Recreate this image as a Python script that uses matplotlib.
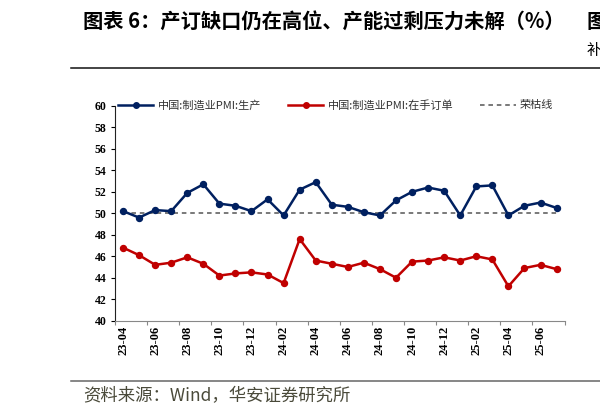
import matplotlib
matplotlib.use("Agg")
import matplotlib.pyplot as plt
from matplotlib.lines import Line2D

plt.rcParams['font.family'] = ['Noto Sans CJK SC', 'DejaVu Sans']

months = ['23-04', '23-05', '23-06', '23-07', '23-08', '23-09', '23-10', '23-11', '23-12',
          '24-01', '24-02', '24-03', '24-04', '24-05', '24-06', '24-07', '24-08', '24-09',
          '24-10', '24-11', '24-12', '25-01', '25-02', '25-03', '25-04', '25-05', '25-06', '25-07']
production = [50.2, 49.6, 50.3, 50.2, 51.9, 52.7, 50.9, 50.7, 50.2, 51.3, 49.8, 52.2, 52.9, 50.8,
              50.6, 50.1, 49.8, 51.2, 52.0, 52.4, 52.1, 49.8, 52.5, 52.6, 49.8, 50.7, 51.0, 50.5]
backlog = [46.8, 46.1, 45.2, 45.4, 45.9, 45.3, 44.2, 44.4, 44.5, 44.3, 43.5, 47.6, 45.6, 45.3,
           45.0, 45.4, 44.8, 44.0, 45.5, 45.6, 45.9, 45.6, 46.0, 45.7, 43.2, 44.9, 45.2, 44.8]
threshold = [50] * len(months)

BLUE = '#002060'
RED = '#C00000'

fig = plt.figure(figsize=(6, 4.17), dpi=100)
ax = fig.add_axes([0.1917, 0.231, 0.7493, 0.515])

x = list(range(len(months)))
ax.plot(x, threshold, color='#555555', lw=1.1, ls=(0, (3, 2.5)), zorder=1)
ax.plot(x, production, color=BLUE, lw=1.8, marker='o', ms=4.3, zorder=3)
ax.plot(x, backlog, color=RED, lw=1.8, marker='o', ms=4.3, zorder=3)

ax.set_xlim(-0.5, len(months) - 0.5)
ax.set_ylim(40, 60)
ax.set_yticks(range(40, 61, 2))
ax.set_xticks([i - 0.5 for i in range(0, len(months) + 1, 2)])
ax.set_xticklabels([])
ax.set_xticks(x[::2], minor=True)
ax.set_xticklabels(months[::2], minor=True, rotation=90,
                   family='Liberation Serif', fontweight='bold', fontsize=9)
ax.tick_params(axis='x', which='minor', length=0, pad=4)
ax.tick_params(axis='x', which='major', length=3, color='#888888', direction='out')
ax.tick_params(axis='y', length=3, direction='out', pad=3)
for lab in ax.get_yticklabels():
    lab.set_family('Liberation Serif')
    lab.set_fontweight('bold')
    lab.set_fontsize(8.5)

for s in ['top', 'right']:
    ax.spines[s].set_visible(False)
ax.spines['bottom'].set_color('#888888')
ax.spines['left'].set_color('#222222')

handles = [
    Line2D([], [], color=BLUE, lw=1.8, marker='o', ms=4),
    Line2D([], [], color=RED, lw=1.8, marker='o', ms=4),
    Line2D([], [], color='#555555', lw=1.1, ls=(0, (3, 2.5))),
]
labels = ['中国:制造业PMI:生产', '中国:制造业PMI:在手订单', '荣枯线']
fig.legend(handles, labels, loc='center left', bbox_to_anchor=(0.187, 1 - 105 / 417),
           ncol=3, frameon=False, fontsize=8, handlelength=3.2, columnspacing=2.4,
           handletextpad=0.4, labelcolor='#333333', borderpad=0)

fig.text(83 / 600, 1 - 22 / 417, '图表 6：产订缺口仍在高位、产能过剩压力未解（%）',
         fontsize=14.6, fontweight='bold', va='center', ha='left')
fig.text(586 / 600, 1 - 22 / 417, '图', fontsize=14.6, fontweight='bold', va='center', ha='left')
fig.text(587 / 600, 1 - 50 / 417, '补', fontsize=11, va='center', ha='left')
fig.add_artist(Line2D([71 / 600, 1], [1 - 67.5 / 417] * 2, color='#111111', lw=1.1))
fig.add_artist(Line2D([71 / 600, 1], [1 - 380.5 / 417] * 2, color='#666666', lw=1.1))
fig.text(83 / 600, 1 - 396 / 417, '资料来源：Wind，华安证券研究所', fontsize=12.5,
         color='#4a4a3a', va='center', ha='left')

fig.savefig('out.png', dpi=100)
